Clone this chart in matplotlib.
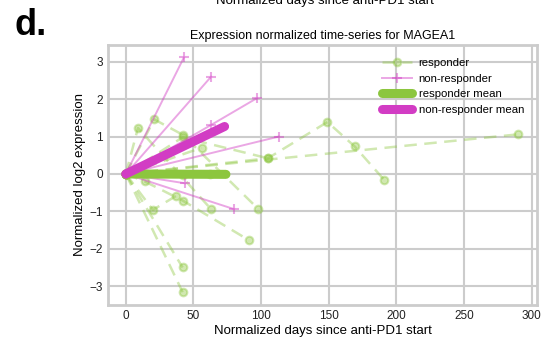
import matplotlib

matplotlib.use("Agg")
import matplotlib.pyplot as plt
from matplotlib.lines import Line2D

plt.rcParams["font.family"] = ["Liberation Sans", "DejaVu Sans"]

# responder time-series (days, normalized log2 expression)
resp_days = [
    [0, 9, 63],
    [0, 21, 42, 98],
    [0, 105, 149, 169, 191],
    [0, 290],
    [0, 42, 105],
    [0, 56],
    [0, 42, 62],
    [0, 14, 42, 91],
    [0, 20, 37],
    [0, 42],
    [0, 42],
]
resp_expr = [
    [0, 1.23, -0.94],
    [0, 1.46, 1.05, -0.94],
    [0, 0.42, 1.39, 0.74, -0.16],
    [0, 1.06],
    [0, 0.98, 0.42],
    [0, 0.70],
    [0, -0.02, -0.01],
    [0, -0.20, -0.71, -1.77],
    [0, -0.96, -0.59],
    [0, -2.50],
    [0, -3.16],
]

# non-responder time-series
nonresp_days = [
    [0, 43],
    [0, 63],
    [0, 63, 97],
    [0, 113],
    [0, 44],
    [0, 80],
]
nonresp_expr = [
    [0, 3.12],
    [0, 2.60],
    [0, 1.31, 2.03],
    [0, 1.00],
    [0, -0.25],
    [0, -0.94],
]

resp_mean_days = [0, 74]
resp_mean_expr = [0, -0.01]
nonresp_mean_days = [0, 73]
nonresp_mean_expr = [0, 1.27]

GREEN = "#8cc63e"
MAGENTA = "#d23cc4"

fig = plt.figure(figsize=(5.41, 3.38), dpi=100)
ax = fig.add_axes([0.2, 0.098, 0.793, 0.769])

for xs, ys in zip(resp_days, resp_expr):
    ax.plot(xs, ys, "--o", color=GREEN, alpha=0.4, lw=1.8, ms=5.5, mew=1.5,
            dashes=(5, 3))
for xs, ys in zip(nonresp_days, nonresp_expr):
    ax.plot(xs, ys, "-+", color=MAGENTA, alpha=0.45, lw=1.4, ms=7, mew=1.5)

ax.plot(resp_mean_days, resp_mean_expr, color=GREEN, lw=6.5,
        solid_capstyle="round", zorder=5)
ax.plot(nonresp_mean_days, nonresp_mean_expr, color=MAGENTA, lw=6.5,
        solid_capstyle="round", zorder=6)

handles = [
    Line2D([], [], ls="--", marker="o", color=GREEN, alpha=0.4, lw=1.8, ms=5.5, mew=1.5,
           dashes=(5, 3)),
    Line2D([], [], ls="-", marker="+", color=MAGENTA, alpha=0.45, lw=1.4, ms=7, mew=1.5),
    Line2D([], [], color=GREEN, lw=6.5, solid_capstyle="round"),
    Line2D([], [], color=MAGENTA, lw=6.5, solid_capstyle="round"),
]
ax.legend(handles, ["responder", "non-responder", "responder mean", "non-responder mean"],
          loc="upper right", frameon=False, fontsize=8.2, handlelength=2.6,
          borderaxespad=0.75, labelspacing=0.5, handletextpad=0.6)

ax.set_xlim(-13, 304)
ax.set_ylim(-3.5, 3.45)
ax.set_xticks([0, 50, 100, 150, 200, 250, 300])
ax.set_yticks([-3, -2, -1, 0, 1, 2, 3])
ax.set_yticklabels(["\u22123", "\u22122", "\u22121", "0", "1", "2", "3"])
ax.grid(color="#cccccc", lw=1.5)
ax.set_axisbelow(True)
for s in ax.spines.values():
    s.set_color("#cccccc")
    s.set_linewidth(2)
ax.tick_params(length=0, labelsize=8.5, colors="#222222", pad=4)

ax.set_title("Expression normalized time-series for MAGEA1", fontsize=9, pad=4)
ax.set_xlabel("Normalized days since anti-PD1 start", fontsize=9.5, labelpad=2)
ax.set_ylabel("Normalized log2 expression", fontsize=9.5, labelpad=2)

# x-label of the panel above, cut off by the figure edge as in the original
fig.text(0.6, 0.997, "Normalized days since anti-PD1 start", fontsize=9.5,
         ha="center", va="center")
fig.text(0.027, 0.925, "d.", fontsize=26, fontweight="bold", ha="left", va="center")

fig.savefig("out.png", dpi=100)
